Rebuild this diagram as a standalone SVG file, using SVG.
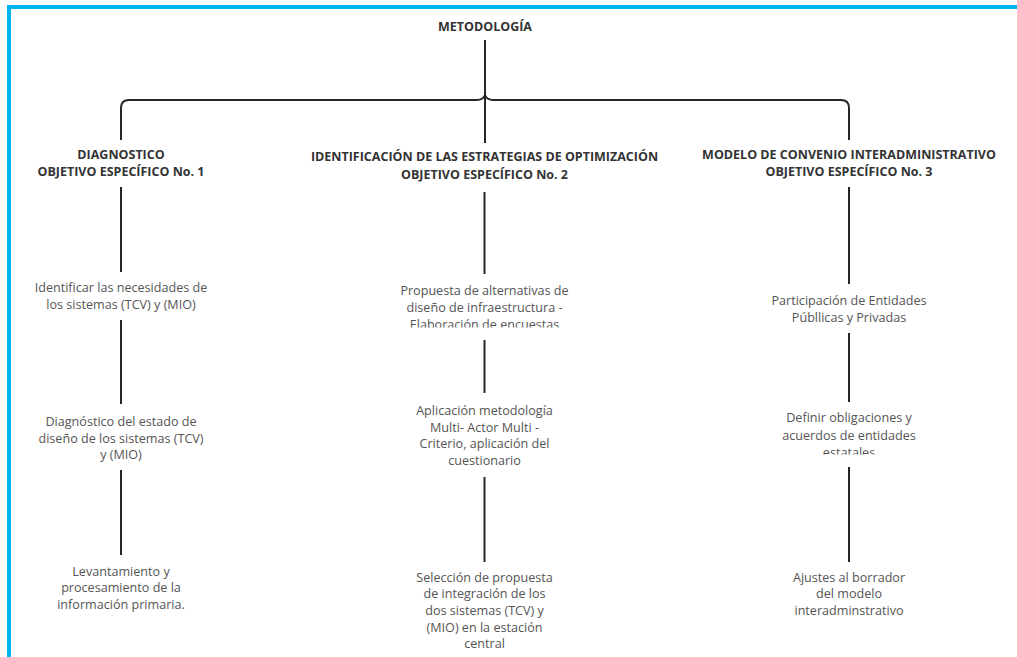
<svg xmlns="http://www.w3.org/2000/svg" width="1017" height="657" viewBox="0 0 1017 657">
<defs>
<style>
.t{font-family:"Open Sans","Liberation Sans",sans-serif;font-weight:bold;font-size:12.5px;fill:#333;text-anchor:middle}
.b{font-family:"Open Sans","Liberation Sans",sans-serif;font-size:12.6px;fill:#555;text-anchor:middle}
.c{stroke:#262626;stroke-width:2;fill:none}
</style>
<clipPath id="clip2"><rect x="370" y="280" width="230" height="47.5"/></clipPath>
<clipPath id="clip3"><rect x="730" y="405" width="240" height="49.5"/></clipPath>
</defs>
<rect width="1017" height="657" fill="#fff"/>
<rect x="9" y="7" width="1030" height="680" fill="none" stroke="#00b2ef" stroke-width="4"/>
<g id="connectors">
<path class="c" d="M485 40 V143"/>
<path class="c" d="M121 140 V108 Q121 100 129 100 H477 Q483 100 485 95 Q487 100 493 100 H841 Q849 100 849 108 V140"/>
<path class="c" d="M121 187 V272"/>
<path class="c" d="M121 320 V404"/>
<path class="c" d="M121 470 V555"/>
<path class="c" d="M484.5 192 V274"/>
<path class="c" d="M484.5 340 V393"/>
<path class="c" d="M484.5 477 V562"/>
<path class="c" d="M849 187 V284"/>
<path class="c" d="M849 333 V402"/>
<path class="c" d="M849 467 V562"/>
</g>
<g id="root"><text class="t" x="485" y="31" font-size="13">METODOLOGÍA</text></g>
<g id="obj1"><text class="t" x="121" y="159">DIAGNOSTICO</text><text class="t" x="121" y="176">OBJETIVO ESPECÍFICO No. 1</text></g>
<g id="obj2"><text class="t" x="484.5" y="161">IDENTIFICACIÓN DE LAS ESTRATEGIAS DE OPTIMIZACIÓN</text><text class="t" x="484.5" y="179">OBJETIVO ESPECÍFICO No. 2</text></g>
<g id="obj3"><text class="t" x="849" y="159">MODELO DE CONVENIO INTERADMINISTRATIVO</text><text class="t" x="849" y="176">OBJETIVO ESPECÍFICO No. 3</text></g>
<g id="n1a"><text class="b" x="121" y="292">Identificar las necesidades de</text><text class="b" x="121" y="309">los sistemas (TCV) y (MIO)</text></g>
<g id="n1b"><text class="b" x="121" y="426">Diagnóstico del estado de</text><text class="b" x="121" y="443">diseño de los sistemas (TCV)</text><text class="b" x="121" y="459">y (MIO)</text></g>
<g id="n1c"><text class="b" x="121" y="576">Levantamiento y</text><text class="b" x="121" y="592">procesamiento de la</text><text class="b" x="121" y="609">información primaria.</text></g>
<g id="n2a" clip-path="url(#clip2)"><text class="b" x="484.5" y="295">Propuesta de alternativas de</text><text class="b" x="484.5" y="312">diseño de infraestructura -</text><text class="b" x="484.5" y="329">Elaboración de encuestas</text></g>
<g id="n2b"><text class="b" x="484.5" y="415">Aplicación metodología</text><text class="b" x="484.5" y="432">Multi- Actor Multi -</text><text class="b" x="484.5" y="448">Criterio, aplicación del</text><text class="b" x="484.5" y="465">cuestionario</text></g>
<g id="n2c"><text class="b" x="484.5" y="582">Selección de propuesta</text><text class="b" x="484.5" y="598">de integración de los</text><text class="b" x="484.5" y="615">dos sistemas (TCV) y</text><text class="b" x="484.5" y="632">(MIO) en la estación</text><text class="b" x="484.5" y="648">central</text></g>
<g id="n3a"><text class="b" x="849" y="305">Participación de Entidades</text><text class="b" x="849" y="322">Públlicas y Privadas</text></g>
<g id="n3b" clip-path="url(#clip3)"><text class="b" x="849" y="422">Definir obligaciones y</text><text class="b" x="849" y="440">acuerdos de entidades</text><text class="b" x="849" y="457">estatales</text></g>
<g id="n3c"><text class="b" x="849" y="582">Ajustes al borrador</text><text class="b" x="849" y="598">del modelo</text><text class="b" x="849" y="615">interadminstrativo</text></g>
</svg>
